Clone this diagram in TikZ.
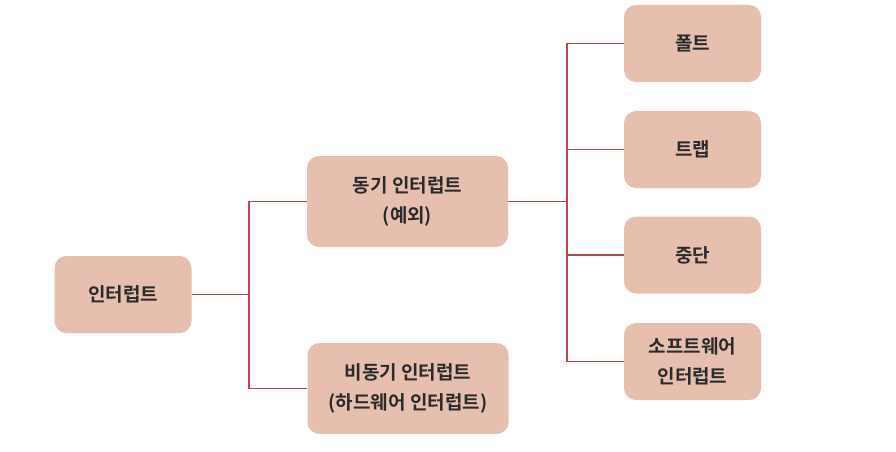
\documentclass[tikz,border=0pt]{standalone}
\usepackage{fontspec}
\setmainfont{Noto Sans CJK KR}[BoldFont={Noto Sans CJK KR Bold}]
\definecolor{boxfill}{HTML}{E6BFAE}
\definecolor{linecol}{HTML}{B8474A}
\definecolor{txt}{HTML}{2B2B2B}
\tikzset{
  box/.style={draw=none, fill=boxfill, rounded corners=12pt, align=center,
    inner sep=0pt, text=txt, font=\fontsize{19pt}{30pt}\selectfont\bfseries},
  small/.style={box, minimum width=137pt, minimum height=77pt},
  big/.style={box, minimum width=201pt, minimum height=91pt},
  conn/.style={draw=linecol, line width=1.1pt}
}
\begin{document}
\begin{tikzpicture}[x=1pt,y=-1pt]
\useasboundingbox (0,0) rectangle (896,452);
\node[small] (root) at (123,294.5) {인터럽트};
\node[big] (sync) at (407.5,201.5) {동기 인터럽트\\(예외)};
\node[big] (async) at (408,388.5) {비동기 인터럽트\\(하드웨어 인터럽트)};
\node[small] (fault) at (692.5,43.5) {폴트};
\node[small] (trap) at (692.5,149.5) {트랩};
\node[small] (abort) at (692.5,255) {중단};
\node[small] (soft) at (692.5,361.5) {소프트웨어\\인터럽트};
\coordinate (j1) at (249,294.5);
\coordinate (j2) at (567,201.5);
\draw[conn] (root.east) -- (j1);
\draw[conn] (j1) |- (sync.west);
\draw[conn] (j1) |- (async.west);
\draw[conn] (sync.east) -- (j2);
\draw[conn] (j2) |- (fault.west);
\draw[conn] (j2) |- (trap.west);
\draw[conn] (j2) |- (abort.west);
\draw[conn] (j2) |- (soft.west);
\end{tikzpicture}
\end{document}
